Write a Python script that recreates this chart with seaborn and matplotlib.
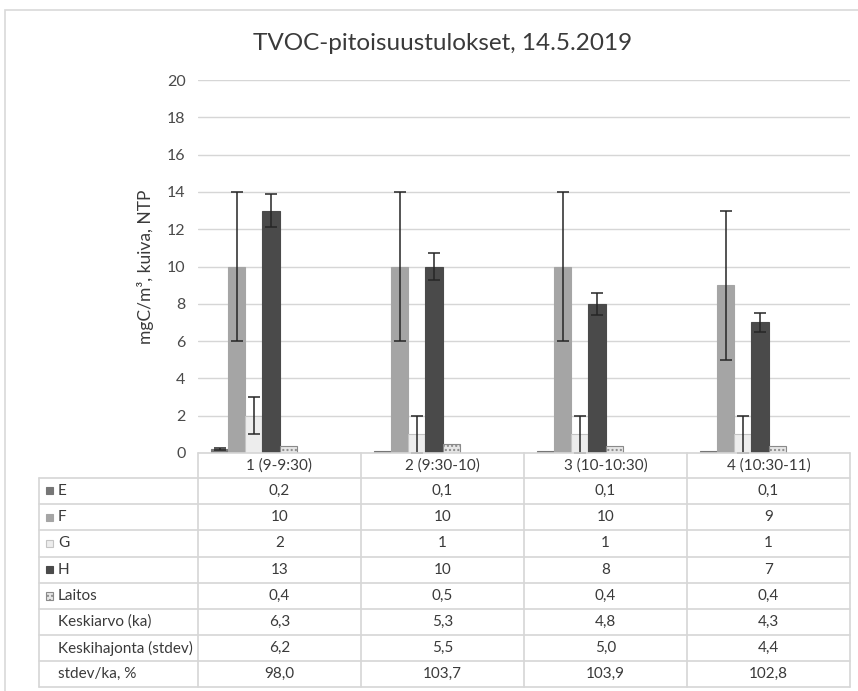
import pandas as pd
import matplotlib
matplotlib.use('Agg')
import matplotlib.pyplot as plt
import matplotlib.transforms as mtransforms
from matplotlib.patches import Rectangle
from matplotlib.lines import Line2D
import seaborn as sns

# --- data ---
jaksot = ['1 (9-9:30)', '2 (9:30-10)', '3 (10-10:30)', '4 (10:30-11)']
sarjat = ['E', 'F', 'G', 'H', 'Laitos']

e_arvot = [0.2, 0.1, 0.1, 0.1]
f_arvot = [10, 10, 10, 9]
g_arvot = [2, 1, 1, 1]
h_arvot = [13, 10, 8, 7]
laitos_arvot = [0.4, 0.5, 0.4, 0.4]

e_hajonta = [0.05, 0.0, 0.0, 0.0]
f_hajonta = [4, 4, 4, 4]
g_hajonta = [1, 1, 1, 1]
h_hajonta = [0.9, 0.7, 0.6, 0.5]
laitos_hajonta = [0, 0, 0, 0]

keskiarvo = [6.3, 5.3, 4.8, 4.3]
keskihajonta = [6.2, 5.5, 5.0, 4.4]
suhde = [98.0, 103.7, 103.9, 102.8]

arvot = {'E': e_arvot, 'F': f_arvot, 'G': g_arvot, 'H': h_arvot, 'Laitos': laitos_arvot}
hajonnat = {'E': e_hajonta, 'F': f_hajonta, 'G': g_hajonta, 'H': h_hajonta, 'Laitos': laitos_hajonta}

rows = []
for s in sarjat:
    for j, v in zip(jaksot, arvot[s]):
        rows.append({'jakso': j, 'sarja': s, 'arvo': v})
df = pd.DataFrame(rows)

# --- styles ---
varit = {'E': '#767676', 'F': '#a5a5a5', 'G': '#ededed', 'H': '#4a4a4a', 'Laitos': '#e6e6e6'}
reunat = {'E': '#767676', 'F': '#a5a5a5', 'G': '#c4c4c4', 'H': '#4a4a4a', 'Laitos': '#8a8a8a'}
# Excel chart had 8 series slots, last three empty
tyhjat = [' ', '  ', '   ']
paletti = dict(varit)
for t in tyhjat:
    paletti[t] = 'white'

sns.set_style('white')
plt.rcParams['font.family'] = ['Lato', 'DejaVu Sans']
plt.rcParams['hatch.color'] = '#7a7a7a'
teksti = '#3a3a3a'
viiva = '#d6d6d6'
koko = 11

W, H = 858, 691
fig = plt.figure(figsize=(W / 100, H / 100), dpi=100)


def fx(px):
    return px / W


def fy(py):
    return 1 - py / H


ax = fig.add_axes([fx(198), fy(453), fx(850) - fx(198), fy(80) - fy(453)])

sns.barplot(data=df, x='jakso', y='arvo', hue='sarja', order=jaksot,
            hue_order=sarjat + tyhjat, palette=paletti, width=0.835,
            errorbar=None, legend=False, saturation=1, ax=ax)

# style bars and add error bars
ex, ey, ee = [], [], []
for cont, s in zip(ax.containers, sarjat):
    for p in cont.patches:
        p.set_edgecolor(reunat[s])
        p.set_linewidth(0.8)
        if s == 'Laitos':
            p.set_hatch('....')
        xc = p.get_x() + p.get_width() / 2
        k = int(round(xc))
        if hajonnat[s][k] > 0:
            ex.append(xc)
            ey.append(p.get_height())
            ee.append(hajonnat[s][k])
ax.errorbar(ex, ey, yerr=ee, fmt='none', ecolor='#262626', elinewidth=1.1,
            capsize=4.5, capthick=1.1, zorder=5)

ax.set_ylim(0, 20)
ax.set_xlim(-0.5, 3.5)
ax.set_yticks(range(0, 21, 2))
ax.yaxis.grid(True, color=viiva, linewidth=1)
ax.set_axisbelow(True)
for sp in ax.spines.values():
    sp.set_visible(False)
ax.tick_params(axis='x', labelbottom=False, length=0)
ax.tick_params(axis='y', length=0, pad=9, labelsize=11.5, labelcolor='#4a4a4a')
ax.set_xlabel('')
ax.set_ylabel('mgC/m³, kuiva, NTP', fontsize=12.5, color=teksti)
ax.yaxis.set_label_coords((154 - 198) / 652, 0.5)

# outer chart frame
fig.add_artist(Rectangle((fx(5), fy(700)), fx(900), fy(10) - fy(700),
                         transform=fig.transFigure, fill=False,
                         edgecolor='#d9d9d9', linewidth=1.2))

fig.text(fx(443), fy(44), 'TVOC-pitoisuustulokset, 14.5.2019', ha='center',
         va='center', fontsize=17.5, color=teksti)

# --- data table below the chart ---
sek = mtransforms.blended_transform_factory(ax.transData, fig.transFigure)
rajat = [453, 477.5, 504, 530, 556.5, 583, 609, 635, 661, 687]


def muoto(v, desim=None):
    if desim is None:
        s = f'{v:g}'
    else:
        s = f'{v:.{desim}f}'
    return s.replace('.', ',')


taulu_nimet = sarjat + ['Keskiarvo (ka)', 'Keskihajonta (stdev)', 'stdev/ka, %']
taulu_arvot = [[muoto(v) for v in arvot[s]] for s in sarjat]
taulu_arvot += [[muoto(v, 1) for v in keskiarvo],
                [muoto(v, 1) for v in keskihajonta],
                [muoto(v, 1) for v in suhde]]

# horizontal lines
fig.add_artist(Line2D([-0.5, 3.5], [fy(rajat[0])] * 2, transform=sek, color=viiva, lw=1.2))
for r in rajat[1:]:
    fig.add_artist(Line2D([fx(39), fx(850)], [fy(r)] * 2, transform=fig.transFigure,
                          color=viiva, lw=1.2))
# vertical lines
fig.add_artist(Line2D([fx(39)] * 2, [fy(rajat[1]), fy(rajat[-1])],
                      transform=fig.transFigure, color=viiva, lw=1.2))
for b in [-0.5, 0.5, 1.5, 2.5, 3.5]:
    fig.add_artist(Line2D([b, b], [fy(rajat[0]), fy(rajat[-1])], transform=sek,
                          color=viiva, lw=1.2))

# header
for k, j in enumerate(jaksot):
    fig.text(k, fy((rajat[0] + rajat[1]) / 2), j, transform=sek, ha='center',
             va='center', fontsize=koko, color=teksti)

for i, (nimi, rivi) in enumerate(zip(taulu_nimet, taulu_arvot)):
    yc = (rajat[i + 1] + rajat[i + 2]) / 2
    if nimi in varit:
        m = Rectangle((fx(46), fy(yc + 3.5)), fx(7), fy(yc - 3.5) - fy(yc + 3.5),
                      transform=fig.transFigure, facecolor=varit[nimi],
                      edgecolor=reunat[nimi], linewidth=0.8,
                      hatch='....' if nimi == 'Laitos' else None)
        fig.add_artist(m)
    fig.text(fx(58), fy(yc), nimi, ha='left', va='center', fontsize=koko, color=teksti)
    for k, t in enumerate(rivi):
        fig.text(k, fy(yc), t, transform=sek, ha='center', va='center',
                 fontsize=koko, color=teksti)

fig.savefig('out.png', dpi=100)
